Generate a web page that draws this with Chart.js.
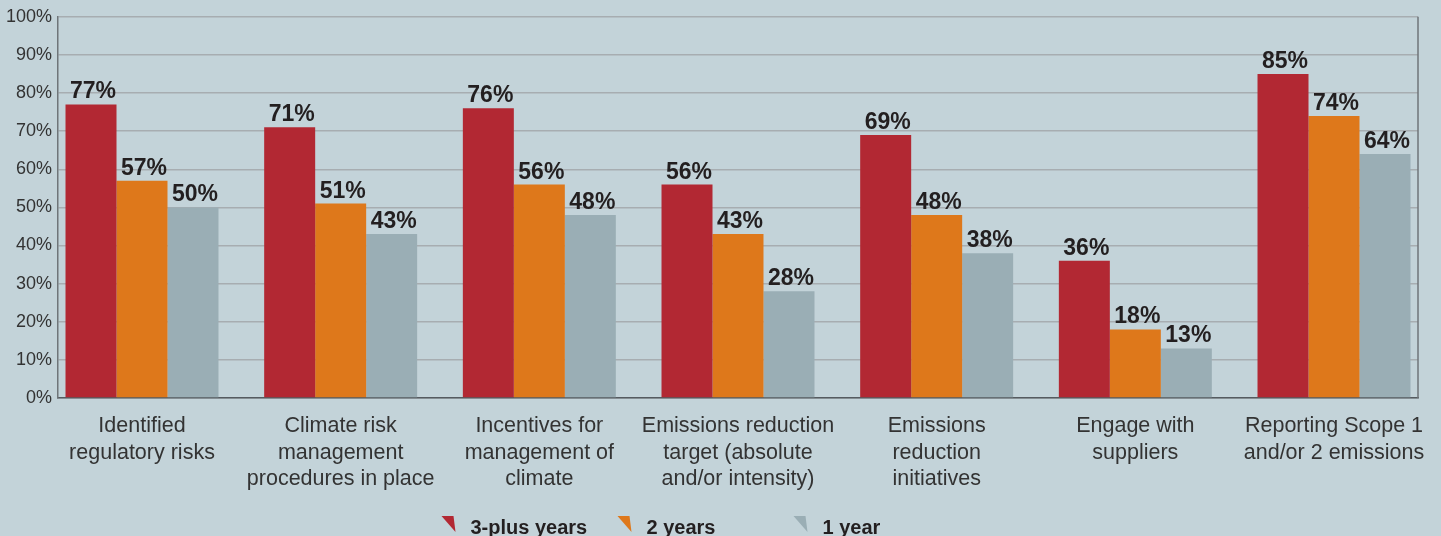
<!DOCTYPE html>
<html>
<head>
<meta charset="utf-8">
<script src="https://cdn.jsdelivr.net/npm/chart.js@4.4.0/dist/chart.umd.min.js"></script>
<style>
  html, body { margin: 0; padding: 0; background: #c3d3d9; }
  #wrap { width: 1441px; height: 536px; }
</style>
</head>
<body>
<div id="wrap"><canvas id="chart"></canvas></div>
<script>
const categories = [
  ["Identified", "regulatory risks"],
  ["Climate risk", "management", "procedures in place"],
  ["Incentives for", "management of", "climate"],
  ["Emissions reduction", "target (absolute", "and/or intensity)"],
  ["Emissions", "reduction", "initiatives"],
  ["Engage with", "suppliers"],
  ["Reporting Scope 1", "and/or 2 emissions"]
];
const threePlusYears = [77, 71, 76, 56, 69, 36, 85];
const twoYears = [57, 51, 56, 43, 48, 18, 74];
const oneYear = [50, 43, 48, 28, 38, 13, 64];
const seriesNames = ["3-plus years", "2 years", "1 year"];
const yTicks = [0, 10, 20, 30, 40, 50, 60, 70, 80, 90, 100];

const colors = ["#b22833", "#de781b", "#9aaeb5"];

const toPoints = (arr) => arr.map((v, i) => ({ x: i, y: v }));

// fill the background
const bgPlugin = {
  id: "bg",
  beforeDraw(chart) {
    const ctx = chart.ctx;
    ctx.save();
    ctx.fillStyle = "#c3d3d9";
    ctx.fillRect(0, 0, chart.width, chart.height);
    ctx.restore();
  }
};

// right border of the plot + value labels above bars
const extrasPlugin = {
  id: "extras",
  afterDatasetsDraw(chart) {
    const ctx = chart.ctx;
    const area = chart.chartArea;
    ctx.save();
    ctx.strokeStyle = "#6f7579";
    ctx.lineWidth = 1.5;
    ctx.beginPath();
    ctx.moveTo(area.right, area.top);
    ctx.lineTo(area.right, area.bottom);
    ctx.stroke();

    ctx.font = "bold 23px 'Liberation Sans', Arial, sans-serif";
    ctx.fillStyle = "#231f20";
    ctx.textAlign = "center";
    ctx.textBaseline = "alphabetic";
    chart.data.datasets.forEach((ds, di) => {
      chart.getDatasetMeta(di).data.forEach((bar, i) => {
        ctx.fillText(ds.data[i].y + "%", bar.x + 2, bar.y - 6);
      });
    });
    ctx.restore();
  }
};

// legend with triangle markers in fixed columns
const legendPlugin = {
  id: "triLegend",
  afterDraw(chart) {
    const ctx = chart.ctx;
    const x0 = chart.width / 2 - 279;
    const colW = 176;
    ctx.save();
    ctx.font = "bold 20px 'Liberation Sans', Arial, sans-serif";
    ctx.textBaseline = "alphabetic";
    chart.data.datasets.forEach((ds, i) => {
      const x = x0 + i * colW;
      const y = 516;
      ctx.fillStyle = ds.backgroundColor;
      ctx.beginPath();
      ctx.moveTo(x, y);
      ctx.lineTo(x + 12, y);
      ctx.lineTo(x + 14, y + 16);
      ctx.closePath();
      ctx.fill();
      ctx.fillStyle = "#231f20";
      ctx.fillText(ds.label, x + 29, 534);
    });
    ctx.restore();
  }
};

new Chart(document.getElementById("chart"), {
  type: "bar",
  data: {
    datasets: [
      { label: seriesNames[0], data: toPoints(threePlusYears), backgroundColor: colors[0] },
      { label: seriesNames[1], data: toPoints(twoYears), backgroundColor: colors[1] },
      { label: seriesNames[2], data: toPoints(oneYear), backgroundColor: colors[2] }
    ]
  },
  options: {
    responsive: true,
    maintainAspectRatio: false,
    animation: false,
    devicePixelRatio: 1,
    layout: { padding: { top: 13, right: 23, left: 0, bottom: 0 } },
    datasets: {
      bar: { categoryPercentage: 0.77, barPercentage: 1.0, borderWidth: 0 }
    },
    plugins: {
      legend: { display: false },
      tooltip: { enabled: false }
    },
    scales: {
      x: {
        type: "linear",
        offset: false,
        min: -0.4228,
        max: 6.4228,
        afterBuildTicks(scale) {
          scale.ticks = categories.map((c, i) => ({ value: i }));
        },
        afterFit(scale) {
          scale.height = 138;
        },
        grid: { display: false, drawTicks: false },
        border: { display: true, color: "#555b60", width: 1.5 },
        ticks: {
          padding: 15,
          autoSkip: false,
          maxRotation: 0,
          color: "#333333",
          font: { family: "'Liberation Sans', Arial, sans-serif", size: 21.5, lineHeight: 1.23 },
          callback: (value) => categories[value]
        }
      },
      y: {
        min: 0,
        max: 100,
        afterBuildTicks(scale) {
          scale.ticks = yTicks.map((v) => ({ value: v }));
        },
        afterFit(scale) {
          scale.width = 58;
        },
        grid: { color: "#a7adb1", lineWidth: 1.5, drawTicks: false },
        border: { display: true, color: "#6f7579", width: 1.5 },
        ticks: {
          padding: 6,
          color: "#333333",
          font: { family: "'Liberation Sans', Arial, sans-serif", size: 18 },
          callback: (v) => v + "%"
        }
      }
    }
  },
  plugins: [bgPlugin, extrasPlugin, legendPlugin]
});
</script>
</body>
</html>
